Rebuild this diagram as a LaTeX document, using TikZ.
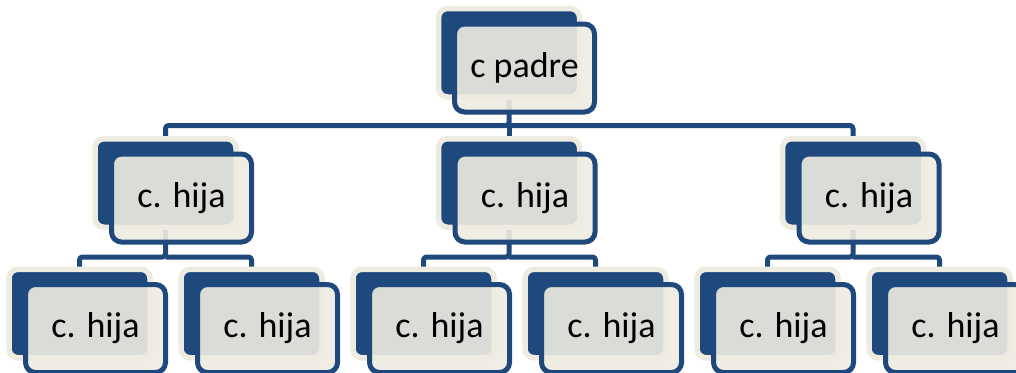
\documentclass[tikz,border=0pt]{standalone}
\usepackage{fontspec}
\setmainfont{Carlito}
\usetikzlibrary{backgrounds}
\definecolor{navy}{RGB}{31,73,125}
\definecolor{cream}{RGB}{238,236,225}
\begin{document}
\begin{tikzpicture}[x=1pt,y=-1pt,
  backbox/.style={draw=cream, fill=navy, line width=5.5pt, rounded corners=9pt,
    minimum width=141pt, minimum height=88.5pt, outer sep=0pt, inner sep=0pt},
  frontbox/.style={draw=navy, fill=cream, fill opacity=0.9, text opacity=1,
    line width=5pt, rounded corners=10pt, minimum width=140pt, minimum height=88pt,
    outer sep=0pt, inner sep=0pt, text=black,
    font=\fontsize{36}{43}\selectfont},
  conn/.style={draw=navy, line width=5pt, line join=round, rounded corners=3pt}]
\useasboundingbox (0,0) rectangle (1016,372);
\clip (0,0) rectangle (1016,372);

% back boxes
\node[backbox] (pb) at (509,52.75) {};
\node[backbox] (h1b) at (165.5,183) {};
\node[backbox] (h2b) at (509,183) {};
\node[backbox] (h3b) at (853,183) {};
\node[backbox] (n1b) at (79.5,313.5) {};
\node[backbox] (n2b) at (251.5,313.5) {};
\node[backbox] (n3b) at (423.5,313.5) {};
\node[backbox] (n4b) at (595.5,313.5) {};
\node[backbox] (n5b) at (767.5,313.5) {};
\node[backbox] (n6b) at (939.5,313.5) {};

% junction points of the tree
\coordinate (pj) at (509,125.5);
\coordinate (j1) at (165.5,257);
\coordinate (j2) at (509,257);
\coordinate (j3) at (853,257);

% connectors, behind the boxes
\begin{scope}[on background layer]
  \draw[conn] (pb.south) -- (pj) -| (h1b.north);
  \draw[conn] (pj) -| (h3b.north);
  \draw[conn] (pj) -- (h2b.north);
  \draw[conn] (h1b.south) -- (j1) -| (n1b.north);
  \draw[conn] (j1) -| (n2b.north);
  \draw[conn] (h2b.south) -- (j2) -| (n3b.north);
  \draw[conn] (j2) -| (n4b.north);
  \draw[conn] (h3b.south) -- (j3) -| (n5b.north);
  \draw[conn] (j3) -| (n6b.north);
\end{scope}

% front boxes with the labels
\node[frontbox] (p) at (524.5,68) {c padre};
\node[frontbox] (h1) at (181.5,198) {c. hija};
\node[frontbox] (h2) at (525,198) {c. hija};
\node[frontbox] (h3) at (869,198) {c. hija};
\node[frontbox] (n1) at (95.5,328.5) {c. hija};
\node[frontbox] (n2) at (267.5,328.5) {c. hija};
\node[frontbox] (n3) at (439.5,328.5) {c. hija};
\node[frontbox] (n4) at (611.5,328.5) {c. hija};
\node[frontbox] (n5) at (783.5,328.5) {c. hija};
\node[frontbox] (n6) at (955.5,328.5) {c. hija};
\end{tikzpicture}
\end{document}
